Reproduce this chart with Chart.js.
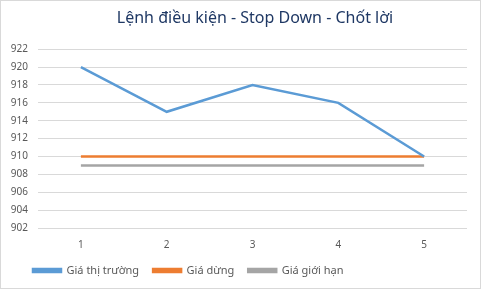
<!DOCTYPE html>
<html>
<head>
<meta charset="utf-8">
<script src="https://cdn.jsdelivr.net/npm/chart.js@4"></script>
<style>
  html, body { margin: 0; padding: 0; background: #fff; }
  #wrap { width: 481px; height: 289px; }
</style>
</head>
<body>
<div id="wrap"><canvas id="myChart" width="481" height="289"></canvas></div>
<script>
const categories = ['1', '2', '3', '4', '5'];
const marketPrice = [920, 915, 918, 916, 910];
const stopPrice = [910, 910, 910, 910, 910];
const limitPrice = [909, 909, 909, 909, 909];
const seriesNames = ['Giá thị trường', 'Giá dừng', 'Giá giới hạn'];
const seriesColors = ['#5B9BD5', '#ED7D31', '#A5A5A5'];

// thin grey frame round the whole chart, like the spreadsheet export
const borderPlugin = {
    id: 'outerBorder',
    afterLayout(chart) {
        // title sits a bit right of centre, legend starts near the left edge
        if (chart.titleBlock) chart.titleBlock.left = 43;
        if (chart.legend) chart.legend.left = 19;
    },
    afterDraw(chart) {
        const c = chart.ctx;
        c.save();
        c.strokeStyle = '#d9d9d9';
        c.lineWidth = 1;
        c.strokeRect(0.5, 0.5, chart.width - 1, chart.height - 1);
        c.restore();
    }
};

const ctx = document.getElementById('myChart').getContext('2d');

new Chart(ctx, {
    type: 'line',
    data: {
        labels: categories,
        datasets: [marketPrice, stopPrice, limitPrice].map((values, i) => ({
            label: seriesNames[i],
            data: values,
            borderColor: seriesColors[i],
            backgroundColor: seriesColors[i],
            borderWidth: 2.5,
            pointRadius: 0,
            tension: 0
        }))
    },
    options: {
        responsive: false,
        animation: false,
        layout: { padding: { left: 0, right: 14, top: 0, bottom: 3 } },
        scales: {
            x: {
                offset: true,
                grid: { display: false },
                border: { display: false },
                ticks: { color: '#595959', font: { family: 'Noto Sans', size: 10 }, padding: 3 },
                afterFit(scale) { scale.height = 23; }
            },
            y: {
                min: 902,
                max: 922,
                ticks: { stepSize: 2, color: '#595959', font: { family: 'Noto Sans', size: 10 }, padding: 10 },
                grid: { color: '#d9d9d9', drawTicks: false },
                border: { display: false },
                afterFit(scale) { scale.width = 38; }
            }
        },
        plugins: {
            title: {
                display: true,
                text: 'Lệnh điều kiện - Stop Down - Chốt lời',
                color: '#1F3864',
                font: { family: 'Noto Sans', size: 16, weight: 'normal' },
                padding: { top: 9, bottom: 21 }
            },
            legend: {
                position: 'bottom',
                align: 'start',
                labels: {
                    color: '#595959',
                    font: { family: 'Noto Sans', size: 11 },
                    boxWidth: 28,
                    boxHeight: 3,
                    padding: 14
                }
            },
            tooltip: { enabled: false }
        }
    },
    plugins: [borderPlugin]
});
</script>
</body>
</html>
